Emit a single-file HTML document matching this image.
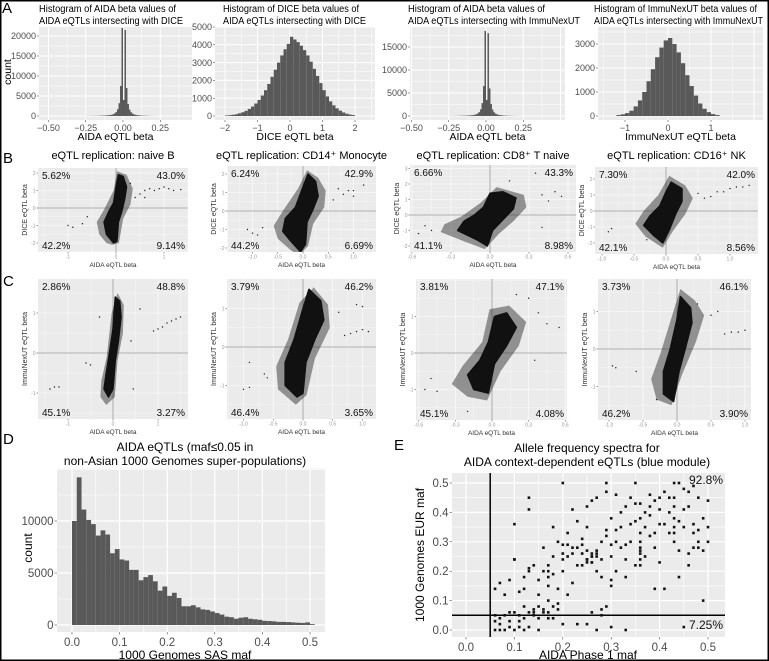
<!DOCTYPE html>
<html><head><meta charset="utf-8"><style>
html,body{margin:0;padding:0;background:#fff;}
svg{display:block;font-family:"Liberation Sans",sans-serif;}
</style></head><body>
<svg id="fig" width="769" height="661" viewBox="0 0 769 661" xmlns="http://www.w3.org/2000/svg"></svg>
<script>
// ---------- DATA ----------
const a1Counts=[15,18,20,25,30,35,40,50,60,70,80,95,110,130,160,200,250,330,450,650,1000,1700,3200,7500,22000,4000,21500,7000,3000,1600,950,600,420,300,220,170,130,100,80,65,50,40,32,25,20,16,12,10,8,6];
const a2Counts=[30,45,70,100,150,210,290,400,530,700,900,1150,1450,1800,2200,2600,3000,3400,3750,4050,4450,4300,4150,3950,3700,3400,3050,2650,2250,1850,1450,1100,820,600,430,300,200,130,80,50];
const a3Counts=[12,15,18,22,26,30,35,42,50,60,70,80,95,110,140,170,210,280,380,560,850,1450,2800,6500,18500,3500,18000,6000,2600,1400,820,520,360,260,190,150,110,85,70,55,45,35,28,22,18,14,11,9,7,5];
const a4Counts=[40,70,120,220,400,650,1000,1450,1950,2450,2850,3150,3250,3000,2650,2200,1700,1250,850,520,300,160,80,40];
const a1XTicks=[-0.5,-0.25,0,0.25], a1XLabels=['−0.50','−0.25','0.00','0.25'], a1YTicks=[0,5000,10000,15000,20000];
const a2XTicks=[-2,-1,0,1,2], a2XLabels=['−2','−1','0','1','2'], a2YTicks=[0,1000,2000,3000,4000,5000];
const a3XTicks=[-0.5,-0.25,0,0.25], a3XLabels=['−0.50','−0.25','0.00','0.25'], a3YTicks=[0,5000,10000,15000];
const a4XTicks=[-1,0,1], a4XLabels=['−1','0','1'], a4YTicks=[0,1000,2000,3000];

const b1Core=[[-0.05,-2.0],[0.02,-1.9],[0.05,-0.8],[0.12,-0.2],[0.18,0.5],[0.22,1.2],[0.15,1.8],[0.05,1.9],[0.0,1.2],[-0.05,0.3],[-0.15,-0.2],[-0.25,-0.8],[-0.2,-1.5]];
const b1Halo=[[-0.08,-2.1],[0.06,-2.0],[0.15,-0.6],[0.3,0.2],[0.35,1.1],[0.22,1.9],[0.02,2.1],[-0.05,1.0],[-0.25,-0.1],[-0.4,-0.8],[-0.35,-1.5],[-0.2,-2.0]];
const b1Pts=[[-1.0,-1.0],[-0.9,-1.1],[-0.7,-0.9],[-0.6,-0.5],[0.6,1.0],[0.7,1.1],[0.8,1.0],[0.9,1.1],[1.0,1.2],[1.1,1.1],[1.2,1.0],[1.35,1.05],[0.5,0.8],[0.4,0.6],[0.6,0.6],[0.3,1.4]];
const b1Pct=['5.62%','43.0%','42.2%','9.14%'];
const b2Core=[[-0.05,-2.2],[0.05,-1.8],[0.08,-0.6],[0.2,0.1],[0.3,0.8],[0.25,1.6],[0.1,2.0],[0.0,1.3],[-0.15,0.2],[-0.35,-0.4],[-0.4,-1.1],[-0.25,-1.6]];
const b2Halo=[[-0.08,-2.4],[0.1,-1.9],[0.2,-0.7],[0.42,0.2],[0.45,1.1],[0.3,1.8],[0.08,2.2],[-0.1,1.2],[-0.4,0.0],[-0.58,-0.8],[-0.5,-1.5],[-0.25,-2.1]];
const b2Pts=[[-1.1,-1.0],[-1.0,-1.2],[-0.9,-1.3],[-0.8,-0.9],[0.7,1.2],[0.8,0.9],[0.9,1.1],[1.0,0.8],[1.2,1.4],[1.0,1.1],[0.6,0.6]];
const b2Pct=['6.24%','42.9%','44.2%','6.69%'];
const b3Core=[[-0.02,-2.0],[0.02,-1.0],[0.1,-0.3],[0.18,0.4],[0.2,1.1],[0.1,1.5],[0.0,1.4],[-0.05,0.5],[-0.12,0.0],[-0.2,-0.4],[-0.25,-1.0],[-0.1,-1.6]];
const b3Halo=[[-0.04,-2.2],[0.07,-1.2],[0.18,-0.4],[0.28,0.5],[0.26,1.3],[0.05,1.8],[-0.07,0.8],[-0.22,-0.1],[-0.35,-0.6],[-0.38,-1.1],[-0.2,-1.7]];
const b3Pts=[[-0.55,-1.2],[-0.5,-0.7],[-0.45,-1.0],[0.4,1.3],[0.45,0.9],[0.5,1.5],[0.55,1.2],[0.35,2.7],[0.15,2.2],[0.4,-0.8]];
const b3Pct=['6.66%','43.3%','41.1%','8.98%'];
const b4Core=[[-0.05,-2.0],[0.05,-1.2],[0.15,-0.2],[0.25,0.6],[0.25,1.4],[0.08,1.8],[0.0,1.2],[-0.1,0.3],[-0.25,-0.3],[-0.35,-0.9],[-0.2,-1.5]];
const b4Halo=[[-0.05,-2.3],[0.1,-1.3],[0.3,-0.2],[0.42,0.8],[0.3,1.6],[0.05,2.2],[-0.12,1.0],[-0.35,0.0],[-0.48,-0.8],[-0.32,-1.6]];
const b4Pts=[[-0.9,-1.3],[-0.85,-1.1],[0.6,0.8],[0.7,0.9],[0.8,1.2],[0.9,1.2],[1.0,1.4],[1.1,1.5],[1.2,1.5],[1.3,1.6],[0.5,1.1],[-0.3,-1.8]];
const b4Pct=['7.30%','42.0%','42.1%','8.56%'];
const c1Core=[[-0.1,-1.1],[0.0,-0.9],[0.05,-0.2],[0.12,0.3],[0.18,0.9],[0.15,1.3],[0.05,1.4],[0.0,0.6],[-0.08,0.0],[-0.15,-0.5],[-0.2,-0.9]];
const c1Halo=[[-0.15,-1.3],[0.04,-1.1],[0.1,-0.2],[0.22,0.5],[0.24,1.2],[0.1,1.5],[-0.03,1.0],[-0.14,-0.1],[-0.26,-0.7],[-0.28,-1.1]];
const c1Pts=[[-1.4,-0.9],[-1.3,-0.85],[-1.2,-0.85],[-0.6,-0.25],[-0.5,-0.3],[0.9,0.55],[1.0,0.6],[1.1,0.65],[1.2,0.75],[1.3,0.8],[1.4,0.85],[1.5,0.9],[0.4,0.3],[0.45,-0.9],[-0.3,0.9],[0.6,1.1]];
const c1Pct=['2.86%','48.8%','45.1%','3.27%'];
const c2Core=[[-0.1,-1.3],[0.0,-1.2],[0.05,-0.4],[0.2,0.2],[0.35,0.7],[0.3,1.2],[0.1,1.5],[0.0,1.0],[-0.15,0.2],[-0.3,-0.4],[-0.3,-1.0]];
const c2Halo=[[-0.12,-1.5],[0.06,-1.25],[0.2,-0.3],[0.45,0.5],[0.42,1.1],[0.18,1.55],[-0.06,1.15],[-0.25,0.2],[-0.45,-0.5],[-0.42,-1.1]];
const c2Pts=[[-0.9,-0.4],[-1.0,-1.1],[-0.9,-1.05],[-0.65,-0.7],[-0.6,-0.8],[0.7,0.3],[0.8,0.35],[0.9,0.4],[1.0,0.45],[1.1,0.4],[0.9,1.1],[1.0,1.05],[0.6,0.9]];
const c2Pct=['3.79%','46.2%','46.4%','3.65%'];
const c3Core=[[-0.03,-1.1],[0.02,-0.3],[0.12,0.2],[0.2,0.7],[0.12,1.1],[0.02,1.0],[-0.03,0.3],[-0.1,-0.2],[-0.2,-0.6],[-0.15,-1.0]];
const c3Halo=[[-0.04,-1.3],[0.07,-0.5],[0.22,0.2],[0.28,0.85],[0.14,1.3],[-0.02,1.2],[-0.08,0.3],[-0.24,-0.35],[-0.33,-0.85],[-0.2,-1.2]];
const c3Pts=[[-0.5,-0.7],[-0.55,-1.0],[-0.45,-1.05],[0.38,1.1],[0.45,0.8],[0.55,0.7],[0.3,1.5],[0.2,1.6],[0.35,-0.2],[-0.2,-1.6]];
const c3Pct=['3.81%','47.1%','45.1%','4.08%'];
const c4Core=[[-0.05,-1.4],[0.03,-0.6],[0.12,0.0],[0.22,0.7],[0.2,1.1],[0.05,1.4],[0.0,0.8],[-0.1,0.0],[-0.2,-0.6],[-0.2,-1.2]];
const c4Halo=[[-0.08,-1.5],[0.07,-0.7],[0.28,0.2],[0.4,0.9],[0.26,1.3],[0.05,1.6],[-0.07,0.9],[-0.24,-0.1],[-0.38,-0.8],[-0.3,-1.35]];
const c4Pts=[[-0.95,-0.45],[-0.9,-0.5],[-0.6,-0.6],[0.5,0.9],[0.6,1.0],[0.3,1.2],[0.7,0.4],[0.8,0.45],[0.9,0.45],[1.0,0.5],[-0.3,-1.35]];
const c4Pct=['3.73%','46.1%','46.2%','3.90%'];

const dCounts=[10000,14200,11100,10100,9700,8600,9100,8700,6900,7300,6300,6200,5300,5300,4300,4600,4800,4200,3300,3700,2800,3100,2600,1800,1800,1900,1700,1500,1450,1300,1150,1000,800,750,600,700,750,600,550,500,400,380,350,300,300,280,250,220,200,250,80];
const dXTicks=[0,0.1,0.2,0.3,0.4,0.5], dXLabels=['0.0','0.1','0.2','0.3','0.4','0.5'], dYTicks=[0,5000,10000];
const eX=[0.06,0.07,0.08,0.09,0.1,0.11,0.12,0.13,0.15,0.2,0.23,0.25,0.27,0.3,0.33,0.45,0.06,0.07,0.08,0.1,0.11,0.12,0.13,0.14,0.15,0.16,0.17,0.18,0.19,0.15,0.17,0.28,0.28,0.26,0.06,0.07,0.1,0.11,0.12,0.13,0.13,0.13,0.1,0.14,0.15,0.15,0.16,0.17,0.17,0.17,0.18,0.18,0.19,0.2,0.2,0.21,0.21,0.22,0.22,0.23,0.23,0.24,0.24,0.25,0.25,0.26,0.26,0.27,0.27,0.28,0.28,0.29,0.29,0.29,0.3,0.3,0.3,0.31,0.31,0.32,0.32,0.33,0.33,0.34,0.35,0.35,0.35,0.36,0.36,0.36,0.37,0.37,0.38,0.38,0.39,0.39,0.4,0.4,0.41,0.41,0.42,0.42,0.43,0.43,0.43,0.43,0.44,0.44,0.45,0.45,0.46,0.46,0.47,0.47,0.48,0.48,0.49,0.49,0.5,0.5,0.47,0.39,0.33,0.22,0.16,0.12,0.08,0.09,0.2,0.25,0.27,0.44,0.38,0.34,0.31,0.21,0.19,0.43,0.43,0.43,0.36,0.36,0.25,0.26,
0.06,0.07,0.09,0.11,0.12,0.14,0.16,0.18,0.19,0.2,0.22,0.24,0.25,0.26,0.26,0.27,0.28,0.29,0.3,0.31,0.32,0.33,0.34,0.35,0.36,0.37,0.38,0.39,0.4,0.41,0.42,0.44,0.45,0.46,0.47,0.48,0.49,0.5,0.46,0.48,0.24,0.25,0.26,0.27,0.23,0.36,0.36,0.36,0.3,0.29,0.18,0.17,0.17,0.13,0.14,0.09,0.1,0.2,0.21,0.4];
const eY=[0.0,0.0,0.0,0.01,0.0,0.01,0.0,0.01,0.0,0.02,0.02,0.02,0.0,0.01,0.0,0.01,0.05,0.04,0.05,0.06,0.05,0.04,0.06,0.07,0.08,0.07,0.06,0.08,0.07,0.04,0.04,0.05,0.07,0.06,0.14,0.16,0.24,0.13,0.18,0.21,0.45,0.41,0.36,0.22,0.17,0.12,0.2,0.22,0.18,0.1,0.25,0.35,0.3,0.29,0.2,0.25,0.33,0.16,0.28,0.22,0.37,0.26,0.31,0.23,0.35,0.25,0.44,0.27,0.2,0.24,0.18,0.32,0.5,0.47,0.38,0.25,0.15,0.3,0.2,0.35,0.28,0.42,0.24,0.3,0.37,0.5,0.22,0.28,0.43,0.33,0.4,0.25,0.46,0.32,0.28,0.44,0.36,0.23,0.47,0.14,0.4,0.33,0.45,0.38,0.3,0.5,0.27,0.18,0.35,0.48,0.22,0.42,0.33,0.28,0.45,0.3,0.38,0.1,0.35,0.44,0.49,0.14,0.18,0.41,0.28,0.14,0.12,0.17,0.5,0.42,0.45,0.5,0.39,0.45,0.46,0.12,0.14,0.42,0.35,0.33,0.3,0.26,0.27,0.23,
0.03,0.02,0.06,0.03,0.08,0.05,0.06,0.04,0.09,0.24,0.26,0.29,0.24,0.26,0.23,0.25,0.3,0.34,0.29,0.34,0.4,0.29,0.36,0.43,0.38,0.35,0.42,0.33,0.45,0.36,0.45,0.37,0.41,0.47,0.36,0.34,0.27,0.3,0.26,0.28,0.22,0.24,0.25,0.26,0.28,0.22,0.24,0.27,0.17,0.08,0.19,0.2,0.15,0.2,0.06,0.03,0.24,0.26,0.29,0.41];
const eXTicks=[0,0.1,0.2,0.3,0.4,0.5], eXLabels=['0.0','0.1','0.2','0.3','0.4','0.5'], eYTicks=[0,0.1,0.2,0.3,0.4,0.5], eYLabels=['0.0','0.1','0.2','0.3','0.4','0.5'];
const ePct=['92.8%','7.25%'];
const eThreshold=0.05;

// ---------- HELPERS ----------
const NS='http://www.w3.org/2000/svg';
const svg=document.getElementById('fig');
function mk(tag,attrs,name,parent){
  const e=document.createElementNS(NS,tag);
  for(const k in attrs) e.setAttribute(k,attrs[k]);
  
  
  (parent||svg).appendChild(e);
  return e;
}
function txt(x,y,s,size,anchor,fill,name,rot,parent,len){
  const a={x:x,y:y,'font-size':size,'text-anchor':anchor||'start',fill:fill||'#000'};
  if(rot) a.transform='rotate(-90 '+x+' '+y+')';
  if(len){a.textLength=len;a.lengthAdjust='spacingAndGlyphs';}
  const t=mk('text',a,name,parent);
  t.textContent=s;
  return t;
}
function sx(c,v){return c.ox+c.kx*v;}
function sy(c,v){return c.oy-c.ky*v;}
function frame(c,id,xt,xl,yt,yl,opt){
  const g=mk('g',{},id+'-panel');
  mk('rect',{x:c.l,y:c.t,width:c.r-c.l,height:c.b-c.t,fill:'#ebebeb'},id+'-background',g);
  const sxStep=xt[1]-xt[0], syStep=yt[1]-yt[0];
  for(let i=-8;i<=2*xt.length+8;i++){
    const v=xt[0]+i*sxStep/2, px=sx(c,v);
    if(px<c.l||px>c.r) continue;
    mk('line',{x1:px,x2:px,y1:c.t,y2:c.b,stroke:'#fff','stroke-width':i%2?opt.minor:opt.major},id+'-x-grid',g);
  }
  for(let i=-8;i<=2*yt.length+8;i++){
    const v=yt[0]+i*syStep/2, py=sy(c,v);
    if(py<c.t||py>c.b) continue;
    mk('line',{x1:c.l,x2:c.r,y1:py,y2:py,stroke:'#fff','stroke-width':i%2?opt.minor:opt.major},id+'-y-grid',g);
  }
  xt.forEach((v,i)=>{
    const px=sx(c,v);
    mk('line',{x1:px,x2:px,y1:c.b,y2:c.b+opt.tick,stroke:'#333','stroke-width':0.5},id+'-x-tick',g);
    txt(px,c.b+opt.tick+opt.fs,xl[i],opt.fs,'middle',opt.tc,id+'-x-tick-label',false,g);
  });
  yt.forEach((v,i)=>{
    const py=sy(c,v);
    mk('line',{x1:c.l-opt.tick,x2:c.l,y1:py,y2:py,stroke:'#333','stroke-width':0.5},id+'-y-tick',g);
    txt(c.l-opt.tick-1,py+opt.fs*0.35,yl[i],opt.fs,'end',opt.tc,id+'-y-tick-label',false,g);
  });
  return g;
}
function hist(c,id,counts,start,w,fill){
  const g=mk('g',{},id+'-bars');
  counts.forEach((n,i)=>{
    const x0=sx(c,start+i*w), x1=sx(c,start+(i+1)*w);
    mk('rect',{x:x0,y:sy(c,n),width:Math.max(x1-x0,0.5),height:c.ky*n,fill:fill},id+'-bar',g);
  });
}
const AOPT={major:1,minor:0.5,tick:2,fs:9,tc:'#4d4d4d'};
function histPanel(c,id,counts,start,w,xt,xl,yt,title,xlab,tx,tw){
  frame(c,id,xt,xl,yt,yt.map(String),AOPT);
  hist(c,id,counts,start,w,'#595959');
  txt(tx,12,title[0],10,'start','#000',id+'-title-line1',false,null,tw[0]);
  txt(tx,24,title[1],10,'start','#000',id+'-title-line2',false,null,tw[1]);
  txt((c.l+c.r)/2,140,xlab,10.5,'middle','#000',id+'-x-axis-title');
}
let clipN=0;
function scatterPanel(c,id,core,halo,pts,pct,xt,xl,yt,title,ylab,xlab){
  const SOPT={major:0.6,minor:0.3,tick:1.5,fs:5,tc:'#999'};
  frame(c,id,xt,xl,yt,yt.map(String),SOPT);
  const cp='clip'+(clipN++);
  const cpe=mk('clipPath',{id:cp},id+'-clip');
  mk('rect',{x:c.l,y:c.t,width:c.r-c.l,height:c.b-c.t},id+'-clip-rect',cpe);
  const g=mk('g',{'clip-path':'url(#'+cp+')'},id+'-points');
  mk('line',{x1:sx(c,0),x2:sx(c,0),y1:c.t,y2:c.b,stroke:'#999','stroke-width':0.8},id+'-vertical-zero-line',g);
  mk('line',{x1:c.l,x2:c.r,y1:sy(c,0),y2:sy(c,0),stroke:'#999','stroke-width':0.8},id+'-horizontal-zero-line',g);
  mk('polygon',{points:halo.map(p=>sx(c,p[0])+','+sy(c,p[1])).join(' '),fill:'#222','fill-opacity':0.45,'stroke-linejoin':'round'},id+'-point-cloud-sparse',g);
  mk('polygon',{points:core.map(p=>sx(c,p[0])+','+sy(c,p[1])).join(' '),fill:'#111','stroke':'#111','stroke-width':1.5,'stroke-linejoin':'round'},id+'-point-cloud-dense',g);
  pts.forEach(p=>{
    mk('circle',{cx:sx(c,p[0]),cy:sy(c,p[1]),r:0.7,fill:'#222'},id+'-point',g);
  });
  txt(c.l+4,c.t+11,pct[0],10,'start','#111',id+'-pct-top-left');
  txt(c.r-3,c.t+11,pct[1],10,'end','#111',id+'-pct-top-right');
  txt(c.l+4,c.b-3,pct[2],10,'start','#111',id+'-pct-bottom-left');
  txt(c.r-3,c.b-3,pct[3],10,'end','#111',id+'-pct-bottom-right');
  const ylx=c.l-11, cy=(c.t+c.b)/2;
  txt(ylx,cy,ylab,7,'middle','#333',id+'-y-axis-title',true);
  txt((c.l+c.r)/2,c.b+15,xlab,6.5,'middle','#333',id+'-x-axis-title');
  if(title) txt((c.l+c.r)/2,159,title,11,'middle','#000',id+'-title');
}

// ---------- BUILD ----------
mk('rect',{x:0,y:0,width:769,height:661,fill:'#fff'},'page-background');

histPanel({l:39,t:27,r:192,b:120,ox:123,kx:149,oy:116,ky:80/20000},'hist-a1',a1Counts,-0.25,0.01,a1XTicks,a1XLabels,a1YTicks,['Histogram of AIDA beta values of','AIDA eQTLs intersecting with DICE'],'AIDA eQTL beta',39,[137,144]);
histPanel({l:215,t:27,r:375,b:120,ox:290,kx:32.5,oy:116,ky:89/5000},'hist-a2',a2Counts,-2,0.1,a2XTicks,a2XLabels,a2YTicks,['Histogram of DICE beta values of','AIDA eQTLs intersecting with DICE'],'DICE eQTL beta',223,[136,143]);
histPanel({l:410,t:27,r:565,b:120,ox:486,kx:149,oy:116,ky:69/15000},'hist-a3',a3Counts,-0.25,0.01,a3XTicks,a3XLabels,a3YTicks,['Histogram of AIDA beta values of','AIDA eQTLs intersecting with ImmuNexUT'],'AIDA eQTL beta',408,[137,172]);
histPanel({l:598,t:27,r:763,b:120,ox:668,kx:43,oy:116,ky:72/3000},'hist-a4',a4Counts,-1.2,0.1,a4XTicks,a4XLabels,a4YTicks,['Histogram of ImmuNexUT beta values of','AIDA eQTLs intersecting with ImmuNexUT'],'ImmuNexUT eQTL beta',594,[163,169]);
txt(11,72,'count',10.5,'middle','#000','hist-a1-y-axis-title',true);

const sxt1=[-1,0,1], sxl1=['-1','0','1'];
const sxt2=[-1,-0.5,0,0.5,1], sxl2=['-1.0','-0.5','0.0','0.5','1.0'];
const sxt3=[-0.6,-0.3,0,0.3,0.6], sxl3=['-0.6','-0.3','0.0','0.3','0.6'];
scatterPanel({l:38,t:168,r:188,b:252,ox:116,kx:48,oy:208,ky:17.5},'scatter-b1',b1Core,b1Halo,b1Pts,b1Pct,sxt1,sxl1,[-2,-1,0,1,2],'eQTL replication: naive B','DICE eQTL beta','AIDA eQTL beta');
scatterPanel({l:227,t:166,r:376,b:252,ox:303,kx:50.5,oy:211,ky:18.5},'scatter-b2',b2Core,b2Halo,b2Pts,b2Pct,sxt2,sxl2,[-2,-1,0,1,2],'eQTL replication: CD14⁺ Monocyte','DICE eQTL beta','AIDA eQTL beta');
scatterPanel({l:410,t:165,r:576,b:252,ox:490,kx:130,oy:215,ky:15.5},'scatter-b3',b3Core,b3Halo,b3Pts,b3Pct,sxt3,sxl3,[-2,-1,0,1,2,3],'eQTL replication: CD8⁺ T naive','DICE eQTL beta','AIDA eQTL beta');
scatterPanel({l:595,t:167,r:758,b:254,ox:666,kx:64,oy:211,ky:16},'scatter-b4',b4Core,b4Halo,b4Pts,b4Pct,sxt2,sxl2,[-2,-1,0,1,2],'eQTL replication: CD16⁺ NK','DICE eQTL beta','AIDA eQTL beta');
scatterPanel({l:38,t:279,r:188,b:419,ox:113,kx:45,oy:353,ky:40},'scatter-c1',c1Core,c1Halo,c1Pts,c1Pct,sxt1,sxl1,[-1,0,1],null,'ImmuNexUT eQTL beta','AIDA eQTL beta');
scatterPanel({l:227,t:279,r:376,b:419,ox:303,kx:59.5,oy:347,ky:38.5},'scatter-c2',c2Core,c2Halo,c2Pts,c2Pct,sxt2,sxl2,[-1,0,1],null,'ImmuNexUT eQTL beta','AIDA eQTL beta');
scatterPanel({l:416,t:279,r:567,b:420,ox:492,kx:122,oy:353,ky:36.5},'scatter-c3',c3Core,c3Halo,c3Pts,c3Pct,sxt3,sxl3,[-1,0,1],null,'ImmuNexUT eQTL beta','AIDA eQTL beta');
scatterPanel({l:598,t:279,r:751,b:420,ox:677,kx:68,oy:349,ky:37.5},'scatter-c4',c4Core,c4Halo,c4Pts,c4Pct,sxt2,sxl2,[-1,0,1],null,'ImmuNexUT eQTL beta','AIDA eQTL beta');

// Panel D
const DOPT={major:1.2,minor:0.6,tick:2.5,fs:11.5,tc:'#4d4d4d'};
const dC={l:57,t:468,r:325,b:632,ox:72,kx:476,oy:625,ky:104/10000};
frame(dC,'hist-d',dXTicks,dXLabels,dYTicks,dYTicks.map(String),DOPT);
hist(dC,'hist-d',dCounts,0,0.01,'#595959');
txt(185,451,'AIDA eQTLs (maf≤0.05 in',12,'middle','#000','hist-d-title-line1');
txt(185,465,'non-Asian 1000 Genomes super-populations)',12,'middle','#000','hist-d-title-line2');
txt(185,659,'1000 Genomes SAS maf',12,'middle','#000','hist-d-x-axis-title');
txt(32,548,'count',12,'middle','#000','hist-d-y-axis-title',true);

// Panel E
const eC={l:452,t:473,r:725,b:637,ox:466,kx:484,oy:630,ky:294};
frame(eC,'scatter-e',eXTicks,eXLabels,eYTicks,eYLabels,DOPT);
const eg=mk('g',{},'scatter-e-points');
mk('line',{x1:sx(eC,eThreshold),x2:sx(eC,eThreshold),y1:eC.t,y2:eC.b,stroke:'#000','stroke-width':1.5},'scatter-e-vertical-threshold',eg);
mk('line',{x1:eC.l,x2:eC.r,y1:sy(eC,eThreshold),y2:sy(eC,eThreshold),stroke:'#000','stroke-width':1.5},'scatter-e-horizontal-threshold',eg);
eX.forEach((x,i)=>{
  mk('rect',{x:sx(eC,x)-1.3,y:sy(eC,eY[i])-1.3,width:2.6,height:2.6,fill:'#111'},'scatter-e-point',eg);
});
txt(eC.r-2,eC.t+11,ePct[0],12,'end','#111','scatter-e-pct-top');
txt(eC.r-2,sy(eC,0)-1,ePct[1],12,'end','#111','scatter-e-pct-bottom');
txt(587,452,'Allele frequency spectra for',12,'middle','#000','scatter-e-title-line1');
txt(587,466,'AIDA context-dependent eQTLs (blue module)',12,'middle','#000','scatter-e-title-line2');
txt(588,659,'AIDA Phase 1 maf',12,'middle','#000','scatter-e-x-axis-title');
txt(424,555,'1000 Genomes EUR maf',12,'middle','#000','scatter-e-y-axis-title',true);

// Panel letters
txt(2,13,'A',15,'start','#000','panel-label-a');
txt(3,163,'B',15,'start','#000','panel-label-b');
txt(3,286,'C',15,'start','#000','panel-label-c');
txt(3,444,'D',15,'start','#000','panel-label-d');
txt(394,450,'E',15,'start','#000','panel-label-e');
mk('rect',{x:0.75,y:0.75,width:767.5,height:659.5,fill:'none',stroke:'#000','stroke-width':1.5},'figure-border');
</script>
</body></html>
